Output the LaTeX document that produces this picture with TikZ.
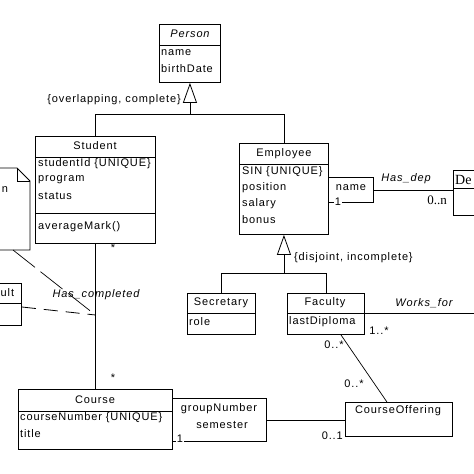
\documentclass[tikz,border=0pt]{standalone}
\usepackage{fontspec}
\setmainfont{Liberation Sans}[LetterSpace=8.0]
\newfontfamily\tnrfont{Liberation Serif}
\usetikzlibrary{arrows.meta}

\begin{document}
\begin{tikzpicture}[x=1pt, y=-1pt,
  comp/.style 2 args={draw, line width=0.9pt, anchor=north west, inner sep=0pt, minimum width=#1, minimum height=#2},
  txt/.style={font=\fontsize{11}{13}\selectfont, inner sep=0pt},
  attr/.style={txt, anchor=west},
  itl/.style={inner sep=0pt, font=\fontsize{11}{13}\selectfont\itshape},
  gen/.style={draw, line width=0.8pt, -{Triangle[open, length=20pt, width=14pt]}},
  assoc/.style={draw, line width=0.7pt}]
\useasboundingbox (0,0) rectangle (474,474);
\clip (0,0) rectangle (474,474);
% classes
\node[comp={61}{21}] (perT) at (159,24) {};
\node[comp={61}{37}] (perA) at (159,45) {};
\node[comp={120}{21}] (stuT) at (35,136) {};
\node[comp={120}{56}] (stuA) at (35,157) {};
\node[comp={120}{30}] (stuO) at (35,213) {};
\node[comp={89}{21}] (empT) at (239,143) {};
\node[comp={89}{70}] (empA) at (239,164) {};
\node[comp={68}{20}] (secT) at (187,293) {};
\node[comp={68}{21}] (secA) at (187,313) {};
\node[comp={77}{20}] (facT) at (287,293) {};
\node[comp={77}{21}] (facA) at (287,313) {};
\node[comp={154}{22}] (crsT) at (18,389) {};
\node[comp={154}{38}] (crsA) at (18,411) {};
\node[comp={107}{34}] (coOff) at (345,402) {};
\node[comp={45}{25}] (quaN) at (328,177) {};
\node[comp={94}{43}] (quaG) at (172,398) {};
\node[comp={40}{18}, line width=1.3pt] (depT) at (453,170) {};
\node[comp={40}{27}, line width=1.3pt] (depA) at (453,188) {};
\node[comp={41}{20}] (resT) at (-20,283) {};
\node[comp={41}{22}] (resA) at (-20,303) {};
% note
\path[draw, line width=0.8pt] (-5,168) -- (17,168) -- (30,181) -- (30,250) -- (-5,250);
\path[draw, line width=0.8pt] (17,168) -- (17,181) -- (30,181);
% texts
\node[itl] (perN) at (190,34) {Person};
\node[attr] (perA1) at (161,53) {name};
\node[attr] (perA2) at (161,69) {birthDate};
\node[txt] (stuN) at (95,146) {Student};
\node[attr] (stuA1) at (38,164) {studentId \{UNIQUE\}};
\node[attr] (stuA2) at (38,180) {program};
\node[attr] (stuA3) at (38,196) {status};
\node[attr] (stuO1) at (38,227) {averageMark()};
\node[txt] (empN) at (284,154) {Employee};
\node[attr] (empA1) at (242,172) {SIN \{UNIQUE\}};
\node[attr] (empA2) at (242,188) {position};
\node[attr] (empA3) at (242,204) {salary};
\node[attr] (empA4) at (242,220) {bonus};
\node[txt] (secN) at (221,303) {Secretary};
\node[attr] (secA1) at (189,322) {role};
\node[txt] (facN) at (325,303) {Faculty};
\node[attr] (facA1) at (289,322) {lastDiploma};
\node[txt] (crsN) at (95,400) {Course};
\node[attr] (crsA1) at (20,418) {courseNumber \{UNIQUE\}};
\node[attr] (crsA2) at (20,434) {title};
\node[txt] (coN) at (398,411) {CourseOffering};
\node[txt] (quaN1) at (351,188) {name};
\node[txt] (quaG1) at (219,409) {groupNumber};
\node[txt] (quaG2) at (222,425) {semester};
\node[font=\fontsize{14}{16}\selectfont\tnrfont, inner sep=0pt, anchor=west] (depN) at (455,180) {De};
\node[txt, anchor=west] (resN) at (0.5,293) {ult};
\node[txt] (noteN) at (5,190) {n};
\node[txt, anchor=east] (ovl) at (181,100) {\{overlapping, complete\}};
\node[txt, anchor=west] (dis) at (294,258) {\{disjoint, incomplete\}};
% connectors
\coordinate (g1) at (perA.south |- 0,114);
\path[draw, line width=0.8pt] (stuT.north) -- (stuT.north |- g1) -- (empT.north |- g1) -- (empT.north);
\path[gen] (g1) -- (perA.south);
\coordinate (g2) at (empA.south |- 0,273);
\path[draw, line width=0.8pt] (secT.north) -- (secT.north |- g2) -- (facT.north |- g2) -- (facT.north);
\path[gen] (g2) -- (empA.south);
\coordinate (hc) at (stuO.south |- 0,315);
\coordinate (noteEnd) at (13,250);
\coordinate (wfEnd) at (480,313);
\path[assoc] (stuO.south) -- (crsT.north);
\path[assoc] (quaN.east) -- (quaN.east -| depA.west);
\path[assoc] (facA.north east) -- (wfEnd);
\path[assoc] ([xshift=15pt]facA.south) -- ([xshift=-12pt]coOff.north);
\path[assoc] (quaG.east) -- (quaG.east -| coOff.west);
\path[draw, line width=0.7pt, dash pattern=on 28pt off 7pt] (noteEnd) -- (hc);
\path[draw, line width=0.8pt, dash pattern=on 14pt off 8pt] ([yshift=-4pt]resA.north east) -- (hc);
% labels
\node[txt] (mul1) at (113,248) {*};
\node[txt] (mul2) at (113,378) {*};
\node[itl] (hcL) at (96,295) {Has\_completed};
\node[itl] (hdL) at (406,179) {Has\_dep};
\node[itl] (wfL) at (424,303) {Works\_for};
\node[inner sep=0pt, font=\fontsize{13}{15}\selectfont\tnrfont] (m0n) at (437,200) {0..n};
\node[txt, fill=white, inner sep=0.6pt] (q1) at (338,202) {1};
\node[txt, fill=white, inner sep=0.6pt] (q2) at (180,439) {1};
\node[txt] (m1s) at (379,331) {1..*};
\node[txt] (m0s1) at (334,345) {0..*};
\node[txt] (m0s2) at (354,384) {0..*};
\node[txt, anchor=east] (m01) at (343,436) {0..1};
\end{tikzpicture}
\end{document}
